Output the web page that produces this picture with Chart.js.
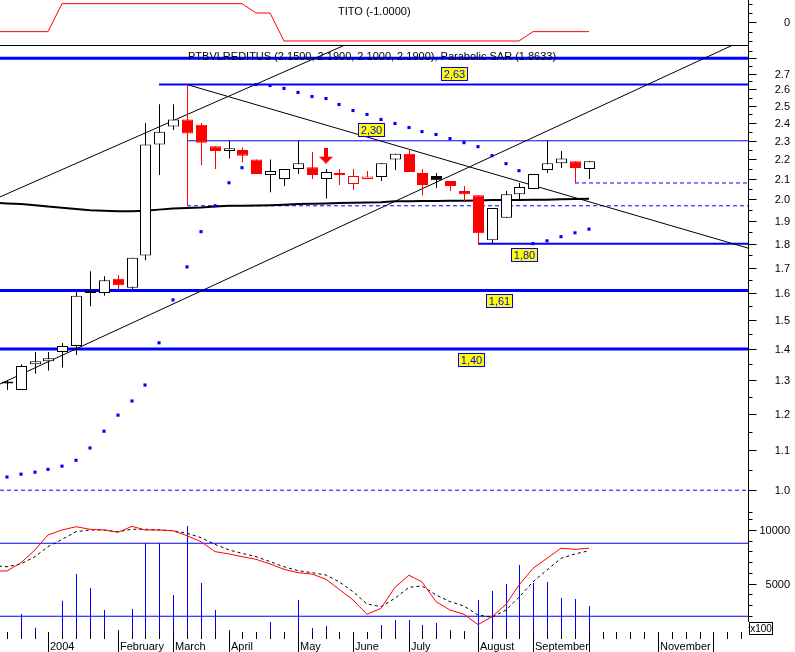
<!DOCTYPE html>
<html>
<head>
<meta charset="utf-8">
<title>PTBVLREDITUS weekly</title>
<script src="https://cdn.jsdelivr.net/npm/chart.js@4.4.0/dist/chart.umd.min.js"></script>
<style>
  html, body { margin: 0; padding: 0; background: #ffffff; }
  #wrap { position: relative; width: 795px; height: 652px; overflow: hidden; background: #ffffff; }
  #wrap canvas { position: absolute; left: 0; top: 0; }
</style>
</head>
<body>
<div id="wrap">
  <canvas id="cBottom" width="795" height="652"></canvas>
  <canvas id="cMain" width="795" height="652"></canvas>
  <canvas id="cTop" width="795" height="652"></canvas>
</div>
<script>
// ---------------------------------------------------------------- data
// Week-ending dates (Fridays); candles exist for the first 43 weeks.
const weekEnding = [
  '2003-12-12','2003-12-19','2003-12-26','2004-01-02','2004-01-09','2004-01-16','2004-01-23','2004-01-30',
  '2004-02-06','2004-02-13','2004-02-20','2004-02-27','2004-03-05','2004-03-12','2004-03-19','2004-03-26',
  '2004-04-02','2004-04-09','2004-04-16','2004-04-23','2004-04-30','2004-05-07','2004-05-14','2004-05-21',
  '2004-05-28','2004-06-04','2004-06-11','2004-06-18','2004-06-25','2004-07-02','2004-07-09','2004-07-16',
  '2004-07-23','2004-07-30','2004-08-06','2004-08-13','2004-08-20','2004-08-27','2004-09-03','2004-09-10',
  '2004-09-17','2004-09-24','2004-10-01','2004-10-08','2004-10-15','2004-10-22','2004-10-29','2004-11-05',
  '2004-11-12','2004-11-19','2004-11-26','2004-12-03','2004-12-10','2004-12-17'
];
// Label shown at the first week of each month (January shows the year).
const monthLabels = ['2004','February','March','April','May','June','July','August','September','','November',''];

const open  = [1.29,1.27,1.35,1.36,1.39,1.41,1.60,1.60,1.655,1.62,
               1.75,2.28,2.38,2.42,2.39,2.27,2.245,2.25,2.20,2.12,
               2.10,2.15,2.16,2.10,2.13,2.075,2.10,2.11,2.20,2.23,
               2.13,2.115,2.09,2.04,2.02,1.815,1.915,2.025,2.05,2.145,
               2.18,2.19,2.15];
const high  = [1.30,1.35,1.39,1.39,1.42,1.605,1.685,1.665,1.67,1.74,
               2.40,2.51,2.51,2.63,2.40,2.27,2.30,2.265,2.20,2.20,
               2.15,2.30,2.24,2.15,2.15,2.15,2.14,2.18,2.23,2.255,
               2.15,2.13,2.09,2.065,2.02,1.96,2.04,2.08,2.125,2.30,
               2.245,2.19,2.19];
const low   = [1.27,1.27,1.32,1.33,1.34,1.38,1.55,1.59,1.615,1.615,
               1.73,2.12,2.36,1.97,2.17,2.15,2.205,2.185,2.125,2.035,
               2.065,2.125,2.10,2.005,2.07,2.045,2.10,2.09,2.145,2.135,
               2.02,2.055,2.04,1.99,1.80,1.80,1.915,2.00,2.05,2.13,
               2.155,2.08,2.10];
const close = [1.29,1.345,1.36,1.37,1.41,1.59,1.60,1.65,1.63,1.74,
               2.28,2.35,2.42,2.34,2.29,2.245,2.26,2.22,2.125,2.14,
               2.15,2.18,2.12,2.135,2.12,2.115,2.112,2.18,2.23,2.135,
               2.07,2.093,2.065,2.025,1.845,1.96,2.025,2.06,2.125,2.18,
               2.205,2.155,2.19];

const parabolicSar = [1.032,1.039,1.044,1.051,1.059,1.074,1.106,1.151,1.196,1.237,
                      1.285,1.421,1.574,1.703,1.852,1.970,2.081,2.157,2.630,2.624,
                      2.606,2.581,2.556,2.544,2.508,2.472,2.449,2.420,2.397,2.374,
                      2.351,2.335,2.312,2.290,2.268,2.220,2.178,2.142,1.800,1.812,
                      1.830,1.847,1.8633];

// Weekly volume, in hundreds of shares.
const volume = [440,2180,900,440,3420,5900,4600,2550,690,2640,
                8760,8760,3950,10370,5070,2550,690,220,500,1430,
                410,3480,880,1060,410,440,500,1150,1620,1620,
                1150,1340,690,600,3480,4320,4970,6740,5070,5160,
                3670,3580,2920];

// These series start one week before the first candle (week index -1).
const movingAverage = [1.984,1.981,1.978,1.973,1.967,1.961,1.955,1.949,1.947,1.944,1.944,
                       1.947,1.952,1.957,1.960,1.962,1.967,1.970,1.970,1.971,1.973,1.975,
                       1.978,1.980,1.981,1.983,1.984,1.985,1.987,1.991,1.991,1.992,1.993,
                       1.994,1.994,1.995,1.997,1.997,1.997,1.999,1.999,2.001,2.002,2.003];
const stochK = [57.2,57.2,64.0,74.5,86.8,90.9,93.6,91.5,90.9,89.0,93.9,
                90.9,90.9,90.3,86.2,81.3,73.1,71.2,69.0,66.8,63.0,58.6,
                55.8,54.7,50.4,42.2,33.4,21.6,26.5,43.8,53.7,48.2,32.0,
                25.1,21.6,13.1,19.6,29.8,45.7,59.4,67.6,75.9,75.0,75.9];
const stochD = [61.6,60.7,63.0,69.0,77.2,83.2,89.5,90.9,90.9,89.5,91.5,
                91.5,90.9,90.3,88.2,84.6,79.1,74.5,71.7,69.0,64.9,60.7,
                57.5,55.8,53.9,48.4,40.2,30.1,27.9,34.8,43.8,44.9,37.5,
                32.0,28.4,21.0,19.2,25.1,35.6,48.4,58.0,67.6,71.2,73.9];
const tito = [-1,-1,-1,-1,-1, 2,2,2,2,2,2,2,2,2,2,2,2,2,2, 1,1,
              -2,-2,-2,-2,-2,-2,-2,-2,-2,-2,-2,-2,-2,-2,-2,-2,-2,-2, -1,-1,-1,-1,-1];

// Horizontal price levels: value and the week they start from.
const levelValues = [2.80, 2.63, 2.30, 1.97, 2.08, 1.80, 1.61, 1.40, 1.00];
const levelStart  = [-0.5, 11, 13, 13, 41, 34, -0.5, -0.5, -0.5];
// Tagged levels (boxed value labels).
const tagLevels = [2.63, 2.30, 1.80, 1.61, 1.40];
// Trend lines as [week, price] end points.
const trendLines = [
  [[-0.5, 2.012], [24.41, 2.890]],
  [[-0.5, 1.288], [52.42, 2.890]],
  [[13, 2.63], [53.5, 1.781]]
];
// Sell signal marker.
const signalWeek = [23];
const signalPrice = [2.22];
// Oscillator reference levels.
const stochLevels = [80, 20];

// Axis tick labels.
const priceTickLabels = ['1.0','1.1','1.2','1.3','1.4','1.5','1.6','1.7','1.8','1.9',
                         '2.0','2.1','2.2','2.3','2.4','2.5','2.6','2.7'];
const volumeTickLabels = ['5000','10000'];
const titoTickLabels = ['0'];

// ---------------------------------------------------------------- styling / layout
const BLUE = '#0000ff', RED = '#ff0000', BLACK = '#000000', WHITE = '#ffffff', YELLOW = '#ffff00';
const FONT = '11px "Liberation Sans", Arial, sans-serif';
const W = 795, H = 652, PLOT_RIGHT = 748;
const levelWidth  = [3, 2, 1, 1, 1, 2, 3, 3, 1];
const levelDashed = [false, false, false, true, true, false, false, false, true];
const tagWeek  = [32.3, 26.25, 37.3, 35.5, 33.5];
const tagAbove = [true, true, false, false, false];

// Week positions snap to whole pixels so 1px bars stay sharp.
const xAxis = { type: 'linear', min: -0.5, max: 53.5, offset: false, display: false, alignToPixels: true };

function baseOptions(top, bottom, yScales) {
  return {
    responsive: false,
    animation: false,
    events: [],
    layout: {
      autoPadding: false,
      padding: { left: 0, right: W - PLOT_RIGHT, top: top, bottom: H - bottom }
    },
    plugins: { legend: { display: false }, tooltip: { enabled: false }, title: { display: false } },
    scales: Object.assign({ x: xAxis }, yScales)
  };
}

// Shift bar datasets half a pixel so odd-width bars land on pixel columns.
const crispBars = {
  id: 'crispBars',
  beforeDatasetDraw(chart, args) {
    if (args.meta.type === 'bar') {
      chart.ctx.save();
      chart.ctx.translate(0.5, 0);
    }
  },
  afterDatasetDraw(chart, args) {
    if (args.meta.type === 'bar') chart.ctx.restore();
  }
};

// Right-hand value axis: line, tick marks and labels taken from a scale.
function rightAxis(scaleId, ticks, lineEnd) {
  return {
    id: 'rightAxis',
    afterDraw(chart) {
      const { ctx, chartArea } = chart;
      const scale = chart.scales[scaleId];
      const x = Math.round(chartArea.right) + 0.5;
      ctx.save();
      ctx.strokeStyle = BLACK;
      ctx.fillStyle = BLACK;
      ctx.lineWidth = 1;
      ctx.beginPath();
      ctx.moveTo(x, chartArea.top);
      ctx.lineTo(x, lineEnd !== undefined ? lineEnd : chartArea.bottom);
      ctx.stroke();
      ctx.font = FONT;
      ctx.textAlign = 'right';
      ctx.textBaseline = 'middle';
      ticks.forEach(t => {
        const y = Math.round(scale.getPixelForValue(t.value)) + 0.5;
        ctx.beginPath();
        ctx.moveTo(x, y);
        ctx.lineTo(x + (t.major ? 8 : 4), y);
        ctx.stroke();
        if (t.label) ctx.fillText(t.label, 790, y);
      });
      ctx.restore();
    }
  };
}

function hLine(value, from, to, color, width, dashed, axisId, order) {
  return {
    type: 'line', yAxisID: axisId, order: order,
    data: [{ x: from, y: value }, { x: to, y: value }],
    borderColor: color, borderWidth: width, borderDash: dashed ? [4, 3] : [],
    pointRadius: 0, fill: false, tension: 0
  };
}

// ---------------------------------------------------------------- top panel: TITO
const titoTicks = [-2, -1, 0, 1, 2].map(v => ({
  value: v, major: titoTickLabels.includes(String(v)), label: titoTickLabels.includes(String(v)) ? String(v) : ''
}));

new Chart(document.getElementById('cTop'), {
  type: 'line',
  data: {
    datasets: [{
      data: tito.map((v, k) => ({ x: k - 1, y: v })),
      borderColor: RED, borderWidth: 1, pointRadius: 0, tension: 0, fill: false
    }]
  },
  options: baseOptions(0, 45, { y: { type: 'linear', min: -2.43, max: 2.39, display: false } }),
  plugins: [
    rightAxis('y', titoTicks),
    {
      id: 'titoTitle',
      afterDatasetsDraw(chart) {
        const ctx = chart.ctx;
        ctx.save();
        ctx.font = FONT;
        ctx.fillStyle = BLACK;
        ctx.textBaseline = 'alphabetic';
        ctx.fillText('TITO (' + tito[tito.length - 1].toFixed(4) + ')', 338, 14.5);
        ctx.restore();
      }
    }
  ]
});

// ---------------------------------------------------------------- main panel: price
const candleColor = close.map((c, i) => (c >= (i > 0 ? close[i - 1] : open[0]) ? BLACK : RED));
const candleFill = close.map((c, i) => (c >= open[i] ? WHITE : candleColor[i]));

const arrowImg = (() => {
  const c = document.createElement('canvas');
  c.width = 14; c.height = 16;
  const g = c.getContext('2d');
  g.fillStyle = RED;
  g.fillRect(5, 0, 4, 10);
  g.beginPath();
  g.moveTo(0, 9); g.lineTo(14, 9); g.lineTo(7, 16); g.closePath();
  g.fill();
  return c;
})();

const priceTicks = [];
for (let k = 19; k <= 57; k++) {
  const v = k / 20;
  const label = priceTickLabels.find(s => Math.abs(parseFloat(s) - v) < 1e-9) || '';
  priceTicks.push({ value: v, major: k % 2 === 0, label: label });
}

const mainSets = [];
levelValues.forEach((v, i) => {
  mainSets.push(hLine(v, levelStart[i], 53.5, BLUE, levelWidth[i], levelDashed[i], 'y', 10));
});
trendLines.forEach(seg => {
  mainSets.push({
    type: 'line', order: 9,
    data: seg.map(p => ({ x: p[0], y: p[1] })),
    borderColor: BLACK, borderWidth: 1, pointRadius: 0, fill: false, tension: 0
  });
});
mainSets.push({
  type: 'line', order: 8,
  data: movingAverage.map((v, k) => ({ x: k - 1, y: v })),
  borderColor: BLACK, borderWidth: 2, pointRadius: 0, fill: false, tension: 0
});
mainSets.push({
  type: 'line', order: 5, showLine: false,
  data: parabolicSar.map((v, i) => ({ x: i, y: v })),
  pointStyle: 'rect', pointRadius: 2.2, pointBackgroundColor: BLUE, pointBorderWidth: 0
});
mainSets.push({
  type: 'bar', order: 2, grouped: false,
  data: low.map((l, i) => ({ x: i, y: [l, high[i]] })),
  backgroundColor: candleColor, borderWidth: 0, barThickness: 1, inflateAmount: 0
});
mainSets.push({
  type: 'bar', order: 1, grouped: false,
  data: open.map((o, i) => ({ x: i, y: [o, close[i]] })),
  backgroundColor: candleFill, borderColor: candleColor, borderWidth: 1,
  borderSkipped: false, barThickness: 11, minBarLength: 2, inflateAmount: 0
});
mainSets.push({
  type: 'line', order: 0, showLine: false,
  data: signalWeek.map((w, i) => ({ x: w, y: signalPrice[i] })),
  pointStyle: arrowImg, pointRadius: 8
});

new Chart(document.getElementById('cMain'), {
  type: 'bar',
  data: { datasets: mainSets },
  options: baseOptions(45, 514, { y: { type: 'logarithmic', min: 0.9449, max: 2.890, display: false } }),
  plugins: [
    crispBars,
    rightAxis('y', priceTicks),
    {
      id: 'mainText',
      afterDatasetsDraw(chart) {
        const { ctx, chartArea } = chart;
        const xs = chart.scales.x, ys = chart.scales.y;
        ctx.save();
        // panel separator
        ctx.strokeStyle = BLACK;
        ctx.lineWidth = 1;
        ctx.beginPath();
        ctx.moveTo(chartArea.left, chartArea.top + 0.5);
        ctx.lineTo(chartArea.right, chartArea.top + 0.5);
        ctx.stroke();
        // title
        ctx.font = FONT;
        ctx.fillStyle = BLACK;
        ctx.textBaseline = 'alphabetic';
        const n = close.length - 1;
        const title = 'PTBVLREDITUS (' + [open[n], high[n], low[n], close[n]].map(v => v.toFixed(4)).join(', ') +
          '), Parabolic SAR (' + parabolicSar[n].toFixed(4) + ')';
        ctx.fillText(title, 188, 59.5);
        // boxed level values
        ctx.textAlign = 'center';
        ctx.textBaseline = 'middle';
        tagLevels.forEach((v, i) => {
          const text = v.toFixed(2).replace('.', ',');
          const cx = xs.getPixelForValue(tagWeek[i]);
          const ly = ys.getPixelForValue(v);
          const w = Math.round(ctx.measureText(text).width) + 6, h = 14;
          const left = Math.round(cx - w / 2);
          const top = Math.round(tagAbove[i] ? ly - 4 - h : ly + 4);
          ctx.fillStyle = YELLOW;
          ctx.fillRect(left, top, w, h);
          ctx.strokeStyle = BLUE;
          ctx.strokeRect(left + 0.5, top + 0.5, w - 1, h - 1);
          ctx.fillStyle = BLUE;
          ctx.fillText(text, left + w / 2, top + h / 2 + 0.5);
        });
        ctx.restore();
      }
    }
  ]
});

// ---------------------------------------------------------------- bottom panel: volume + stochastics
const volumeTicks = [];
for (let v = 1000; v <= 11000; v += 1000) {
  const label = volumeTickLabels.includes(String(v)) ? String(v) : '';
  volumeTicks.push({ value: v, major: label !== '', label: label });
}

const bottomSets = [
  {
    type: 'bar', yAxisID: 'yv', order: 3, grouped: false,
    data: volume.map((v, i) => ({ x: i, y: v })),
    backgroundColor: BLUE, borderWidth: 0, barThickness: 1, inflateAmount: 0
  },
  ...stochLevels.map(v => hLine(v, -0.5, 53.5, BLUE, 1, false, 'ys', 2)),
  {
    type: 'line', yAxisID: 'ys', order: 1,
    data: stochD.map((v, k) => ({ x: k - 1, y: v })),
    borderColor: BLACK, borderWidth: 1, borderDash: [3, 3], pointRadius: 0, fill: false, tension: 0
  },
  {
    type: 'line', yAxisID: 'ys', order: 0,
    data: stochK.map((v, k) => ({ x: k - 1, y: v })),
    borderColor: RED, borderWidth: 1, pointRadius: 0, fill: false, tension: 0
  }
];

new Chart(document.getElementById('cBottom'), {
  type: 'bar',
  data: { datasets: bottomSets },
  options: baseOptions(514, 639, {
    yv: { type: 'linear', min: -149, max: 11490, display: false },
    ys: { type: 'linear', min: 1.3, max: 104.05, display: false }
  }),
  plugins: [
    crispBars,
    rightAxis('yv', volumeTicks, 622),
    {
      id: 'timeAxis',
      afterDraw(chart) {
        const { ctx, chartArea } = chart;
        const xs = chart.scales.x;
        const base = chartArea.bottom;
        ctx.save();
        ctx.strokeStyle = BLACK;
        ctx.fillStyle = BLACK;
        ctx.lineWidth = 1;
        ctx.font = FONT;
        ctx.textAlign = 'left';
        ctx.textBaseline = 'alphabetic';
        weekEnding.forEach((d, i) => {
          const x = Math.round(xs.getPixelForValue(i)) + 0.5;
          const m = +d.slice(5, 7);
          const monthStart = i > 0 && m !== +weekEnding[i - 1].slice(5, 7);
          ctx.beginPath();
          ctx.moveTo(x, base - 7);
          ctx.lineTo(x, monthStart ? base + 13 : base);
          ctx.stroke();
          if (monthStart && monthLabels[m - 1]) ctx.fillText(monthLabels[m - 1], x + 1.5, base + 11);
        });
        // volume multiplier box
        ctx.fillStyle = WHITE;
        ctx.fillRect(749, 622, 23, 12);
        ctx.strokeRect(749.5, 622.5, 23, 12);
        ctx.fillStyle = BLACK;
        ctx.font = '10px "Liberation Sans", Arial, sans-serif';
        ctx.textAlign = 'center';
        ctx.textBaseline = 'middle';
        ctx.fillText('x100', 761, 629);
        ctx.restore();
      }
    }
  ]
});
</script>
</body>
</html>
